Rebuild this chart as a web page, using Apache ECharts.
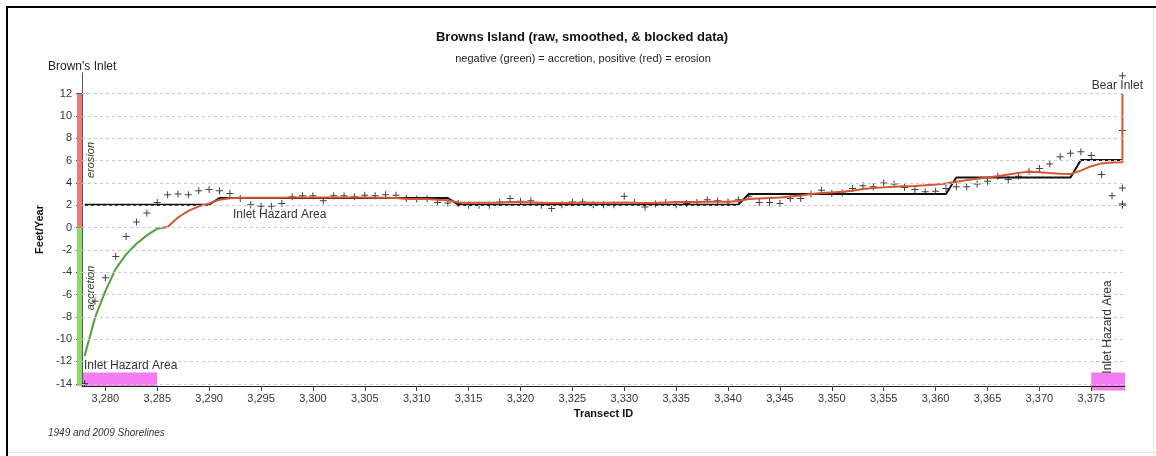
<!DOCTYPE html>
<html><head><meta charset="utf-8">
<script src="https://cdn.jsdelivr.net/npm/echarts@6/dist/echarts.min.js"></script>
<style>html,body{margin:0;padding:0;background:#fff}#c{width:1156px;height:456px}</style>
</head><body><div id="c"></div>
<script>
const transects = [3278,3279,3280,3281,3282,3283,3284,3285,3286,3287,3288,3289,3290,3291,3292,3293,3294,3295,3296,3297,3298,3299,3300,3301,3302,3303,3304,3305,3306,3307,3308,3309,3310,3311,3312,3313,3314,3315,3316,3317,3318,3319,3320,3321,3322,3323,3324,3325,3326,3327,3328,3329,3330,3331,3332,3333,3334,3335,3336,3337,3338,3339,3340,3341,3342,3343,3344,3345,3346,3347,3348,3349,3350,3351,3352,3353,3354,3355,3356,3357,3358,3359,3360,3361,3362,3363,3364,3365,3366,3367,3368,3369,3370,3371,3372,3373,3374,3375,3376,3377,3378];
const rawValues = [-14.0,-6.6,-4.5,-2.6,-0.8,0.5,1.3,2.25,2.95,3.0,2.95,3.3,3.4,3.3,3.05,2.6,2.05,1.9,1.9,2.15,2.75,2.85,2.85,2.4,2.85,2.85,2.75,2.9,2.85,2.95,2.9,2.6,2.55,2.55,2.25,2.2,2.15,2.0,2.0,2.0,2.3,2.6,2.35,2.4,2.0,1.7,2.05,2.3,2.3,2.05,2.05,2.05,2.8,2.25,1.85,2.1,2.25,2.05,2.15,2.25,2.5,2.4,2.3,2.5,2.8,2.25,2.25,2.15,2.6,2.6,3.0,3.35,3.05,3.1,3.5,3.75,3.65,4.0,3.9,3.6,3.4,3.2,3.25,3.5,3.65,3.65,3.9,4.15,4.6,4.3,4.6,5.05,5.3,5.7,6.35,6.65,6.8,6.45,4.75,2.85,3.55];
const rawExtra = [[3378,13.6],[3378,8.7],[3378,2.1],[3378,2.0]];
const smoothedValues = [-11.5,-8.1,-5.7,-3.7,-2.4,-1.45,-0.7,-0.1,0.05,0.9,1.5,1.9,2.15,2.5,2.62,2.68,2.68,2.68,2.68,2.68,2.7,2.7,2.7,2.7,2.7,2.7,2.7,2.7,2.68,2.68,2.65,2.55,2.55,2.55,2.5,2.45,2.25,2.22,2.22,2.22,2.25,2.3,2.28,2.25,2.22,2.2,2.2,2.22,2.22,2.22,2.22,2.22,2.25,2.22,2.2,2.2,2.25,2.3,2.3,2.3,2.32,2.32,2.32,2.38,2.55,2.6,2.65,2.7,2.78,2.88,3.0,3.1,3.15,3.2,3.3,3.45,3.55,3.6,3.65,3.7,3.72,3.78,3.85,3.95,4.1,4.25,4.38,4.48,4.6,4.75,4.9,5.0,4.95,4.88,4.82,4.8,5.1,5.5,5.75,5.82,5.85];
const smoothedExtra = [[3378,12.0]];
const blockedValues = [2.05,2.05,2.05,2.05,2.05,2.05,2.05,2.05,2.05,2.05,2.05,2.05,2.05,2.65,2.65,2.65,2.65,2.65,2.65,2.65,2.65,2.65,2.65,2.65,2.65,2.65,2.65,2.65,2.65,2.65,2.65,2.65,2.65,2.65,2.65,2.65,2.05,2.05,2.05,2.05,2.05,2.05,2.05,2.05,2.05,2.05,2.05,2.05,2.05,2.05,2.05,2.05,2.05,2.05,2.05,2.05,2.05,2.05,2.05,2.05,2.05,2.05,2.05,2.05,3.0,3.0,3.0,3.0,3.0,3.0,3.0,3.0,3.0,3.0,3.0,3.0,3.0,3.0,3.0,3.0,3.0,3.0,3.0,3.0,4.48,4.48,4.48,4.48,4.48,4.48,4.48,4.48,4.48,4.48,4.48,4.48,6.05,6.05,6.05,6.05,6.05];
const xTicks = [3280,3285,3290,3295,3300,3305,3310,3315,3320,3325,3330,3335,3340,3345,3350,3355,3360,3365,3370,3375];
const yTicks = [-14,-12,-10,-8,-6,-4,-2,0,2,4,6,8,10,12];
const hazardZones = [[3277.75,3285],[3375,3378.25]];
const erosionTop = 12;

const FONT = "'Liberation Sans', Arial, sans-serif";
const rawData = transects.map((t,i)=>[t, rawValues[i]]).concat(rawExtra);
const smoothData = transects.map((t,i)=>[t, smoothedValues[i]]).concat(smoothedExtra);
const blockedData = transects.map((t,i)=>[t, blockedValues[i]]);
const comma = v => String(v).replace(/\B(?=(\d{3})+(?!\d))/g, ',');

const chart = echarts.init(document.getElementById('c'), null, {renderer:'canvas'});
const X_MIN = 3277.75, X_MAX = 3378.25, Y_MIN = -14.2, Y_MAX = 13.85;
chart.setOption({
  animation:false,
  backgroundColor:'#fff',
  grid:{left:82,right:31,top:73,bottom:70},
  xAxis:{type:'value',min:X_MIN,max:X_MAX,
    name:'Transect ID',nameLocation:'middle',nameGap:19,
    nameTextStyle:{fontFamily:FONT,fontSize:11,fontWeight:'bold',color:'#111'},
    axisLine:{onZero:false,lineStyle:{color:'#222',width:1}},
    axisTick:{show:true,length:5,customValues:xTicks,lineStyle:{color:'#444'}},
    axisLabel:{customValues:xTicks,formatter:comma,fontFamily:FONT,fontSize:11,color:'#333',margin:7},
    splitLine:{show:false}},
  yAxis:{type:'value',min:Y_MIN,max:Y_MAX,
    name:'Feet/Year',nameLocation:'middle',nameGap:27,
    nameTextStyle:{fontFamily:FONT,fontSize:11,fontWeight:'bold',color:'#111'},
    axisLine:{show:true,onZero:false,lineStyle:{color:'#555',width:1}},
    axisTick:{show:true,length:6,customValues:yTicks,lineStyle:{color:'#444'}},
    axisLabel:{customValues:yTicks,fontFamily:FONT,fontSize:11,color:'#333',margin:10},
    splitLine:{show:false}},
  series:[
    {type:'scatter',name:'raw',data:rawData,z:1,
      symbol:'path://M3,0h1v3h3v1h-3v3h-1v-3h-3v-1h3z',symbolSize:7,
      itemStyle:{color:'#111'},
      markLine:{silent:true,symbol:'none',label:{show:false},
        lineStyle:{type:[3,3],color:'#c8c8c8',width:1},
        data:yTicks.map(v=>({yAxis:v}))}},
    {type:'line',name:'smoothed',data:smoothData,z:4,showSymbol:false,symbol:'none',
      lineStyle:{width:2,color:'#d8532f'}},
    {type:'line',name:'blocked',data:blockedData,z:3,showSymbol:false,symbol:'none',
      lineStyle:{width:2,color:'#111'}}
  ]
});

function px(x,y){return chart.convertToPixel({gridIndex:0},[x,y]);}
const pAxisTop = px(X_MIN, Y_MAX), pZero = px(X_MIN,0), pErTop = px(X_MIN, erosionTop), pBottom = px(X_MIN, Y_MIN);
const f = (pZero[1]-pAxisTop[1])/(pBottom[1]-pAxisTop[1]);
const grad = new echarts.graphic.LinearGradient(0, pAxisTop[1], 0, pBottom[1], [
  {offset:0,color:'#d8532f'},{offset:f,color:'#d8532f'},{offset:f,color:'#52a038'},{offset:1,color:'#52a038'}], true);

const g = [];
g.push({type:'rect',z:5,shape:{x:pZero[0]-5,y:pErTop[1],width:5,height:pZero[1]-pErTop[1]},style:{fill:'#ec7b78'}});
g.push({type:'rect',z:5,shape:{x:pZero[0]-5,y:pZero[1],width:5,height:pBottom[1]-pZero[1]},style:{fill:'#8ed86c'}});
hazardZones.forEach((z,i)=>{
  const a = px(z[0], -13.0), b = px(z[1], i===0 ? Y_MIN : -14.6);
  g.push({type:'rect',z:0,shape:{x:a[0],y:a[1],width:b[0]-a[0],height:b[1]-a[1]},style:{fill:'#f57cf0'}});
});
const T = (o)=>Object.assign({type:'text',z:10},o);
g.push(T({x:582,y:37,style:{text:'Browns Island (raw, smoothed, & blocked data)',font:"bold 13px "+FONT,fill:'#111',align:'center',verticalAlign:'middle'}}));
g.push(T({x:583,y:59,style:{text:'negative (green) = accretion, positive (red) = erosion',font:"11px "+FONT,fill:'#222',align:'center',verticalAlign:'middle'}}));
g.push(T({x:48,y:67,style:{text:"Brown's Inlet",font:"12px "+FONT,fill:'#222',align:'left',verticalAlign:'middle'}}));
g.push(T({x:1143,y:86,style:{text:'Bear Inlet',font:"12px "+FONT,fill:'#333',align:'right',verticalAlign:'middle'}}));
g.push(T({x:91,y:160,rotation:Math.PI/2,style:{text:'erosion',font:"italic 11px "+FONT,fill:'#333',align:'center',verticalAlign:'middle'}}));
g.push(T({x:91,y:288,rotation:Math.PI/2,style:{text:'accretion',font:"italic 11px "+FONT,fill:'#333',align:'center',verticalAlign:'middle'}}));
g.push(T({x:84,y:366,style:{text:'Inlet Hazard Area',font:"12px "+FONT,fill:'#333',align:'left',verticalAlign:'middle'}}));
g.push(T({x:233,y:215,style:{text:'Inlet Hazard Area',font:"12px "+FONT,fill:'#333',align:'left',verticalAlign:'middle'}}));
g.push(T({x:1108,y:327,rotation:Math.PI/2,style:{text:'Inlet Hazard Area',font:"12px "+FONT,fill:'#333',align:'center',verticalAlign:'middle'}}));
g.push(T({x:48,y:433,style:{text:'1949 and 2009 Shorelines',font:"italic 10px "+FONT,fill:'#333',align:'left',verticalAlign:'middle'}}));
g.push({type:'line',z:10,shape:{x1:7,y1:6,x2:7,y2:456},style:{stroke:'#000',lineWidth:2}});
g.push({type:'line',z:10,shape:{x1:6,y1:7,x2:1156,y2:7},style:{stroke:'#000',lineWidth:2}});
g.push({type:'line',z:10,shape:{x1:1153.5,y1:8,x2:1153.5,y2:456},style:{stroke:'#e8e8e0',lineWidth:1}});
g.push({type:'line',z:10,shape:{x1:8,y1:452.5,x2:1156,y2:452.5},style:{stroke:'#e8e8e0',lineWidth:1}});
chart.setOption({graphic:g, series:[{},{lineStyle:{color:grad}},{}]});
</script></body></html>
